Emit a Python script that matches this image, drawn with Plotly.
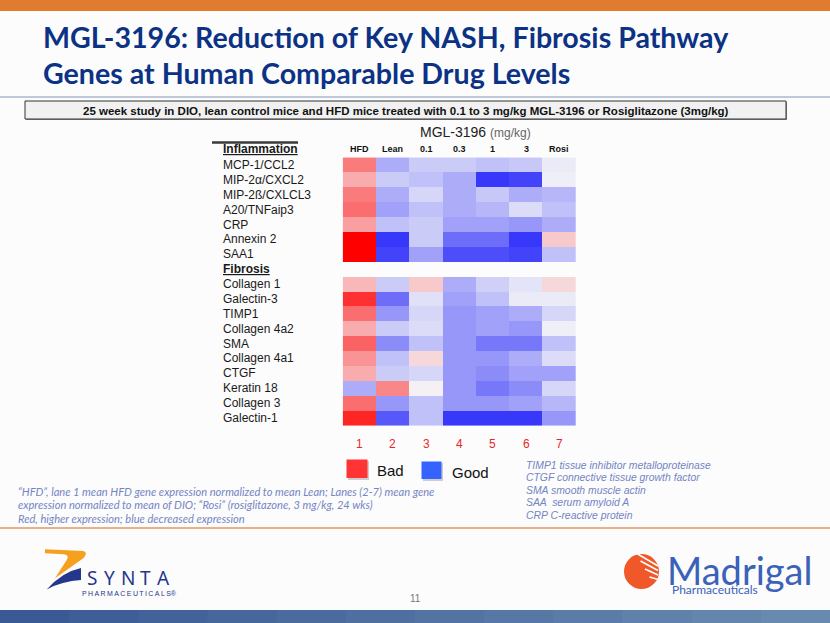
import plotly.graph_objects as go

W, H = 830, 623

# ---------------- data ----------------
lanes = ["HFD", "Lean", "0.1", "0.3", "1", "3", "Rosi"]
lane_numbers = ["1", "2", "3", "4", "5", "6", "7"]
inflammation_genes = ["MCP-1/CCL2", "MIP-2α/CXCL2", "MIP-2ß/CXLCL3", "A20/TNFaip3",
                      "CRP", "Annexin 2", "SAA1"]
fibrosis_genes = ["Collagen 1", "Galectin-3", "TIMP1", "Collagen 4a2", "SMA",
                  "Collagen 4a1", "CTGF", "Keratin 18", "Collagen 3", "Galectin-1"]

inflammation_values = [
    [0.50, -0.35, -0.20, -0.20, -0.25, -0.22, -0.05],
    [0.30, -0.20, -0.25, -0.35, -0.90, -0.85, -0.03],
    [0.50, -0.35, -0.15, -0.35, -0.22, -0.35, -0.30],
    [0.55, -0.40, -0.25, -0.35, -0.30, -0.12, -0.25],
    [0.35, -0.25, -0.20, -0.40, -0.40, -0.45, -0.35],
    [1.00, -0.90, -0.20, -0.65, -0.65, -0.90, 0.18],
    [1.00, -0.85, -0.40, -0.80, -0.80, -0.85, -0.25],
]
fibrosis_values = [
    [0.25, -0.20, 0.18, -0.35, -0.18, -0.08, 0.12],
    [0.80, -0.65, -0.10, -0.40, -0.25, -0.05, -0.05],
    [0.55, -0.45, -0.15, -0.45, -0.40, -0.35, -0.15],
    [0.30, -0.20, -0.12, -0.45, -0.40, -0.45, -0.03],
    [0.60, -0.50, -0.25, -0.45, -0.60, -0.60, -0.25],
    [0.40, -0.25, 0.12, -0.45, -0.45, -0.35, -0.12],
    [0.30, -0.20, -0.15, -0.45, -0.50, -0.40, -0.40],
    [-0.35, 0.45, 0.02, -0.45, -0.60, -0.50, -0.15],
    [0.55, -0.45, -0.25, -0.45, -0.45, -0.40, -0.30],
    [0.85, -0.75, -0.25, -0.90, -0.90, -0.90, -0.45],
]

title_lines = ["MGL-3196: Reduction of Key NASH, Fibrosis Pathway",
               "Genes at Human Comparable Drug Levels"]
study_text = ("25 week study in DIO, lean control mice and HFD mice treated with 0.1 to 3 "
              "mg/kg MGL-3196 or Rosiglitazone (3mg/kg)")
footnote_left = [
    "“HFD”, lane 1 mean HFD gene expression normalized to mean Lean; Lanes (2-7) mean gene",
    "expression normalized to mean of DIO; “Rosi” (rosiglitazone, 3 mg/kg, 24 wks)",
    "Red, higher expression; blue decreased expression",
]
footnote_right = [
    "TIMP1 tissue inhibitor metalloproteinase",
    "CTGF connective tissue growth factor",
    "SMA smooth muscle actin",
    "SAA  serum amyloid A",
    "CRP C-reactive protein",
]

# ---------------- build ----------------
rows = inflammation_genes + ["Fibrosis"] + fibrosis_genes
z = inflammation_values + [[None] * len(lanes)] + fibrosis_values

colorscale = [[0.0, "rgb(35,35,250)"], [0.5, "rgb(245,245,248)"], [1.0, "rgb(255,0,0)"]]

fig = go.Figure()
fig.add_trace(go.Heatmap(
    z=z, x=lanes, y=rows, zmin=-1, zmax=1, colorscale=colorscale,
    showscale=False, hoverongaps=False, xaxis="x", yaxis="y",
))
# invisible pixel-space overlay axis for page decorations
fig.add_trace(go.Scatter(x=[None], y=[None], xaxis="x2", yaxis="y2",
                         mode="markers", showlegend=False, hoverinfo="skip"))

hm_left, hm_right, hm_top, hm_bottom = 342.7, 576.0, 156.0, 427.0

ARIAL = "Liberation Sans, Arial, sans-serif"
CAL = "Lato, Calibri, sans-serif"

shapes = []
ann = []

def A(x, y, text, size=12, color="#1a1a1a", family=ARIAL, xanchor="left",
      yanchor="middle", xref="x2", yref="y2"):
    ann.append(dict(x=x, y=y, text=text, xref=xref, yref=yref, showarrow=False,
                    xanchor=xanchor, yanchor=yanchor,
                    font=dict(size=size, color=color, family=family)))

# top orange bar
shapes.append(dict(type="rect", xref="x2", yref="y2", x0=0, x1=W, y0=0, y1=11,
                   fillcolor="#e07b30", line=dict(width=0), layer="below"))
# title
A(41, 37, "<b>%s</b>" % title_lines[0], size=28.6, color="#0b3285", family=CAL)
A(41, 73, "<b>%s</b>" % title_lines[1], size=28.6, color="#0b3285", family=CAL)
# rule under title
shapes.append(dict(type="line", xref="x2", yref="y2", x0=0, x1=W, y0=97, y1=97,
                   line=dict(color="#a9b7cc", width=1.5)))
# study box
shapes.append(dict(type="rect", xref="x2", yref="y2", x0=26, x1=787, y0=102, y1=120,
                   fillcolor="#8a8a8a", line=dict(width=0)))
shapes.append(dict(type="rect", xref="x2", yref="y2", x0=25, x1=786, y0=101, y1=119,
                   fillcolor="#f1f1f1", line=dict(color="#333333", width=1)))
A(405.5, 110.5, "<b>%s</b>" % study_text, size=11.5, color="#111111", xanchor="center")

# MGL-3196 header
A(475, 131.5, "MGL-3196 <span style='font-size:12px;color:#666666'>(mg/kg)</span>",
  size=14, color="#222222", xanchor="center")

# column headers and lane numbers (positioned by category index on the heatmap x axis)
for i, (lane, num) in enumerate(zip(lanes, lane_numbers)):
    A(i, 149, "<b>%s</b>" % lane, size=9, color="#111111", xanchor="center", xref="x")
    A(i, 443.5, num, size=12, color="#e82828", xanchor="center", xref="x")

# group headers and row labels
shapes.append(dict(type="line", xref="x2", yref="y2", x0=212, x1=298, y0=142.5, y1=142.5,
                   line=dict(color="#3a3a3a", width=2.5)))
A(221, 148.5, "<b><u>Inflammation</u></b>", size=12)
for g in rows:
    if g == "Fibrosis":
        A(221, g, "<b><u>Fibrosis</u></b>", size=12, yref="y")
    else:
        A(221, g, g, size=12, yref="y")

# legend squares
shapes.append(dict(type="rect", xref="x2", yref="y2", x0=348, x1=369, y0=461, y1=480,
                   fillcolor="rgba(120,120,120,0.35)", line=dict(width=0)))
shapes.append(dict(type="rect", xref="x2", yref="y2", x0=346.5, x1=367.5, y0=459.5, y1=478,
                   fillcolor="#ff3434", line=dict(width=0)))
shapes.append(dict(type="rect", xref="x2", yref="y2", x0=423, x1=443, y0=463, y1=481,
                   fillcolor="rgba(120,120,120,0.35)", line=dict(width=0)))
shapes.append(dict(type="rect", xref="x2", yref="y2", x0=421.5, x1=441.5, y0=461.5, y1=479,
                   fillcolor="#3463ff", line=dict(width=0)))
A(375, 470, "Bad", size=15, color="#111111")
A(450, 472, "Good", size=15, color="#111111")

# footnotes
for i, t in enumerate(footnote_left):
    A(16, 491 + 13.6 * i, "<i>%s</i>" % t, size=11.1, color="#7484c4", family=CAL)
for i, t in enumerate(footnote_right):
    A(524, 465.5 + 12.45 * i, "<i>%s</i>" % t, size=10.4, color="#7484c4")

# orange rule
shapes.append(dict(type="line", xref="x2", yref="y2", x0=0, x1=W, y0=528, y1=528,
                   line=dict(color="#eab08a", width=2)))

# page number
A(415, 598, "11", size=10, color="#777777", xanchor="center")

# bottom bar (stepped gradient)
nseg = 12
for k in range(nseg):
    t = k / (nseg - 1)
    r = int(58 + (105 - 58) * t); gg = int(90 + (138 - 90) * t); b = int(150 + (175 - 150) * t)
    shapes.append(dict(type="rect", xref="x2", yref="y2", x0=W * k / nseg, x1=W * (k + 1) / nseg + 1,
                       y0=610, y1=H, fillcolor="rgb(%d,%d,%d)" % (r, gg, b), line=dict(width=0)))

# SYNTA logo
shapes.append(dict(type="path", xref="x2", yref="y2",
                   path="M45,549.3 L83.3,551 Q88.5,552.5 83.3,558.3 L55,578.3 L66.7,560 "
                        "Q70,555 63.3,554.3 L45,553.3 Z",
                   fillcolor="#f5a01e", line=dict(width=0)))
shapes.append(dict(type="path", xref="x2", yref="y2",
                   path="M81,568 Q62,572 46.7,589.5 Q62,581 81,580 Z",
                   fillcolor="#26368c", line=dict(width=0)))
for i, ch in enumerate("SYNTA"):
    A(92 + 17.8 * i, 577.5, ch, size=19, color="#26368c", family="Noto Sans, sans-serif",
      xanchor="center")
A(129, 593, "\u2009".join("PHARMACEUTICALS") + "®", size=7, color="#26368c",
  xanchor="center")

# Madrigal logo
shapes.append(dict(type="circle", xref="x2", yref="y2", x0=624, x1=659, y0=554, y1=589,
                   fillcolor="#f0582a", line=dict(width=0)))
for dx in [0, 5, 10, 15, 20]:
    shapes.append(dict(type="line", xref="x2", yref="y2",
                       x0=660 - 2, y0=566 + dx * 0.9, x1=636 + dx * 0.9, y1=553 + dx * 1.6,
                       line=dict(color="white", width=1.6)))
A(665, 570, "Madrigal", size=38, color="#3a62b8", family=CAL)
A(670, 589.5, "Pharmaceuticals", size=12, color="#3a62b8", family=CAL)

fig.update_layout(
    width=W, height=H,
    margin=dict(l=0, r=0, t=0, b=0),
    paper_bgcolor="#fcfcfc", plot_bgcolor="rgba(0,0,0,0)",
    showlegend=False,
    xaxis=dict(domain=[hm_left / W, hm_right / W], type="category", showticklabels=False,
               showgrid=False, zeroline=False, ticks="", fixedrange=True, anchor="y"),
    yaxis=dict(domain=[1 - hm_bottom / H, 1 - hm_top / H], type="category",
               autorange="reversed", showticklabels=False, showgrid=False, zeroline=False,
               ticks="", fixedrange=True, anchor="x"),
    xaxis2=dict(domain=[0, 1], range=[0, W], visible=False, fixedrange=True, anchor="y2"),
    yaxis2=dict(domain=[0, 1], range=[H, 0], visible=False, fixedrange=True, anchor="x2"),
    shapes=shapes, annotations=ann,
)

fig.write_html(
    "out.html",
    config={"displayModeBar": False},
    post_script="document.body.style.margin='0';document.body.style.padding='0';"
                "document.documentElement.style.overflow='hidden';",
)
